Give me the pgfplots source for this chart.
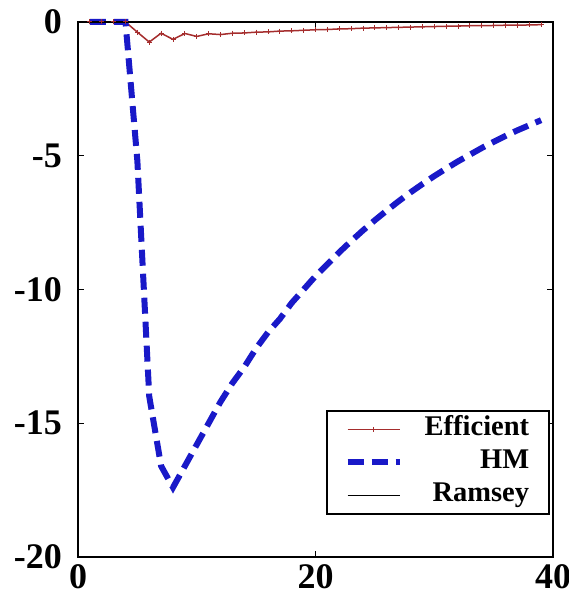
\documentclass[border=0pt]{standalone}
\usepackage{fontspec}
\setmainfont{Liberation Serif}
\usepackage{pgfplots}
\pgfplotsset{compat=1.18}

\definecolor{hmblue}{RGB}{25,25,200}
\definecolor{effred}{RGB}{165,45,45}

\begin{document}
\begin{tikzpicture}
\begin{axis}[
    name=ax,
    scale only axis,
    width=475pt, height=535pt,
    xmin=0, xmax=40,
    ymin=-20, ymax=0,
    xtick={0,20,40}, xticklabels={0,20,40},
    ytick={-20,-15,-10,-5,0}, yticklabels={-20,-15,-10,-5,0},
    tick align=inside,
    major tick length=6pt,
    every tick/.style={black, line width=1.2pt},
    axis line style={line width=2pt},
    tick label style={font=\bfseries\fontsize{36}{36}\selectfont, inner sep=0pt},
    xticklabel style={yshift=-7pt},
    yticklabel style={xshift=-16pt},
    clip=false,
    legend cell align=right,
    legend image code/.code={
        \draw[mark repeat=2,mark phase=2,#1]
            plot coordinates {(0pt,0pt)(26pt,0pt)(52pt,0pt)};
    },
    legend style={
        at={(rel axis cs:0.994,0.0785)}, anchor=south east,
        draw=black, line width=2pt,
        font=\bfseries\fontsize{28.5}{28.5}\selectfont,
        inner xsep=18pt, inner ysep=4pt,
        row sep=4pt,
        nodes={text height=19pt, text depth=6pt, inner sep=2pt},
        /tikz/every odd column/.append style={column sep=20pt},
    },
]

% Efficient
\addplot[color=effred, line width=1.5pt, mark=+, mark size=2.5pt,
         mark options={line width=1pt}]
    coordinates {
    (1,0)(2,0)(3,0)(4,0)(5,-0.38)(6,-0.75)(7,-0.42)(8,-0.65)(9,-0.43)
    (10,-0.54)(11,-0.44)(12,-0.47)(13,-0.42)(14,-0.41)(15,-0.38)(16,-0.37)
    (17,-0.34)(18,-0.33)(19,-0.31)(20,-0.29)(21,-0.28)(22,-0.26)(23,-0.25)
    (24,-0.23)(25,-0.22)(26,-0.21)(27,-0.20)(28,-0.19)(29,-0.18)(30,-0.17)
    (31,-0.16)(32,-0.15)(33,-0.14)(34,-0.14)(35,-0.13)(36,-0.12)(37,-0.12)
    (38,-0.11)(39,-0.10)
    };
\addlegendentry{Efficient}

% HM
\addplot[color=hmblue, line width=6pt, dash pattern=on 16pt off 8pt]
    coordinates {
    (1,0)(2,0)(3,0)(4,0)(5,-5.2)(6,-14.0)(7,-16.6)(8,-17.4)(9,-16.6)
    (10,-15.8)(11,-15.0)(12,-14.2)(13,-13.5)(14,-12.9)(15,-12.2)(16,-11.6)
    (17,-11.1)(18,-10.5)(19,-10.0)(20,-9.5)(21,-9.06)(22,-8.61)(23,-8.19)
    (24,-7.79)(25,-7.41)(26,-7.05)(27,-6.70)(28,-6.37)(29,-6.06)(30,-5.76)
    (31,-5.48)(32,-5.21)(33,-4.96)(34,-4.71)(35,-4.48)(36,-4.26)(37,-4.05)
    (38,-3.86)(39,-3.67)
    };
\addlegendentry{HM}

% Ramsey
\addplot[color=black, line width=1.5pt]
    coordinates {(1,0)(10,0)(20,0)(30,0)(39,0)};
\addlegendentry{Ramsey}

\end{axis}
\pgfresetboundingbox
\path[use as bounding box] ([shift={(-78pt,-42pt)}]ax.south west)
    rectangle ([shift={(15pt,22pt)}]ax.north east);
\end{tikzpicture}
\end{document}
